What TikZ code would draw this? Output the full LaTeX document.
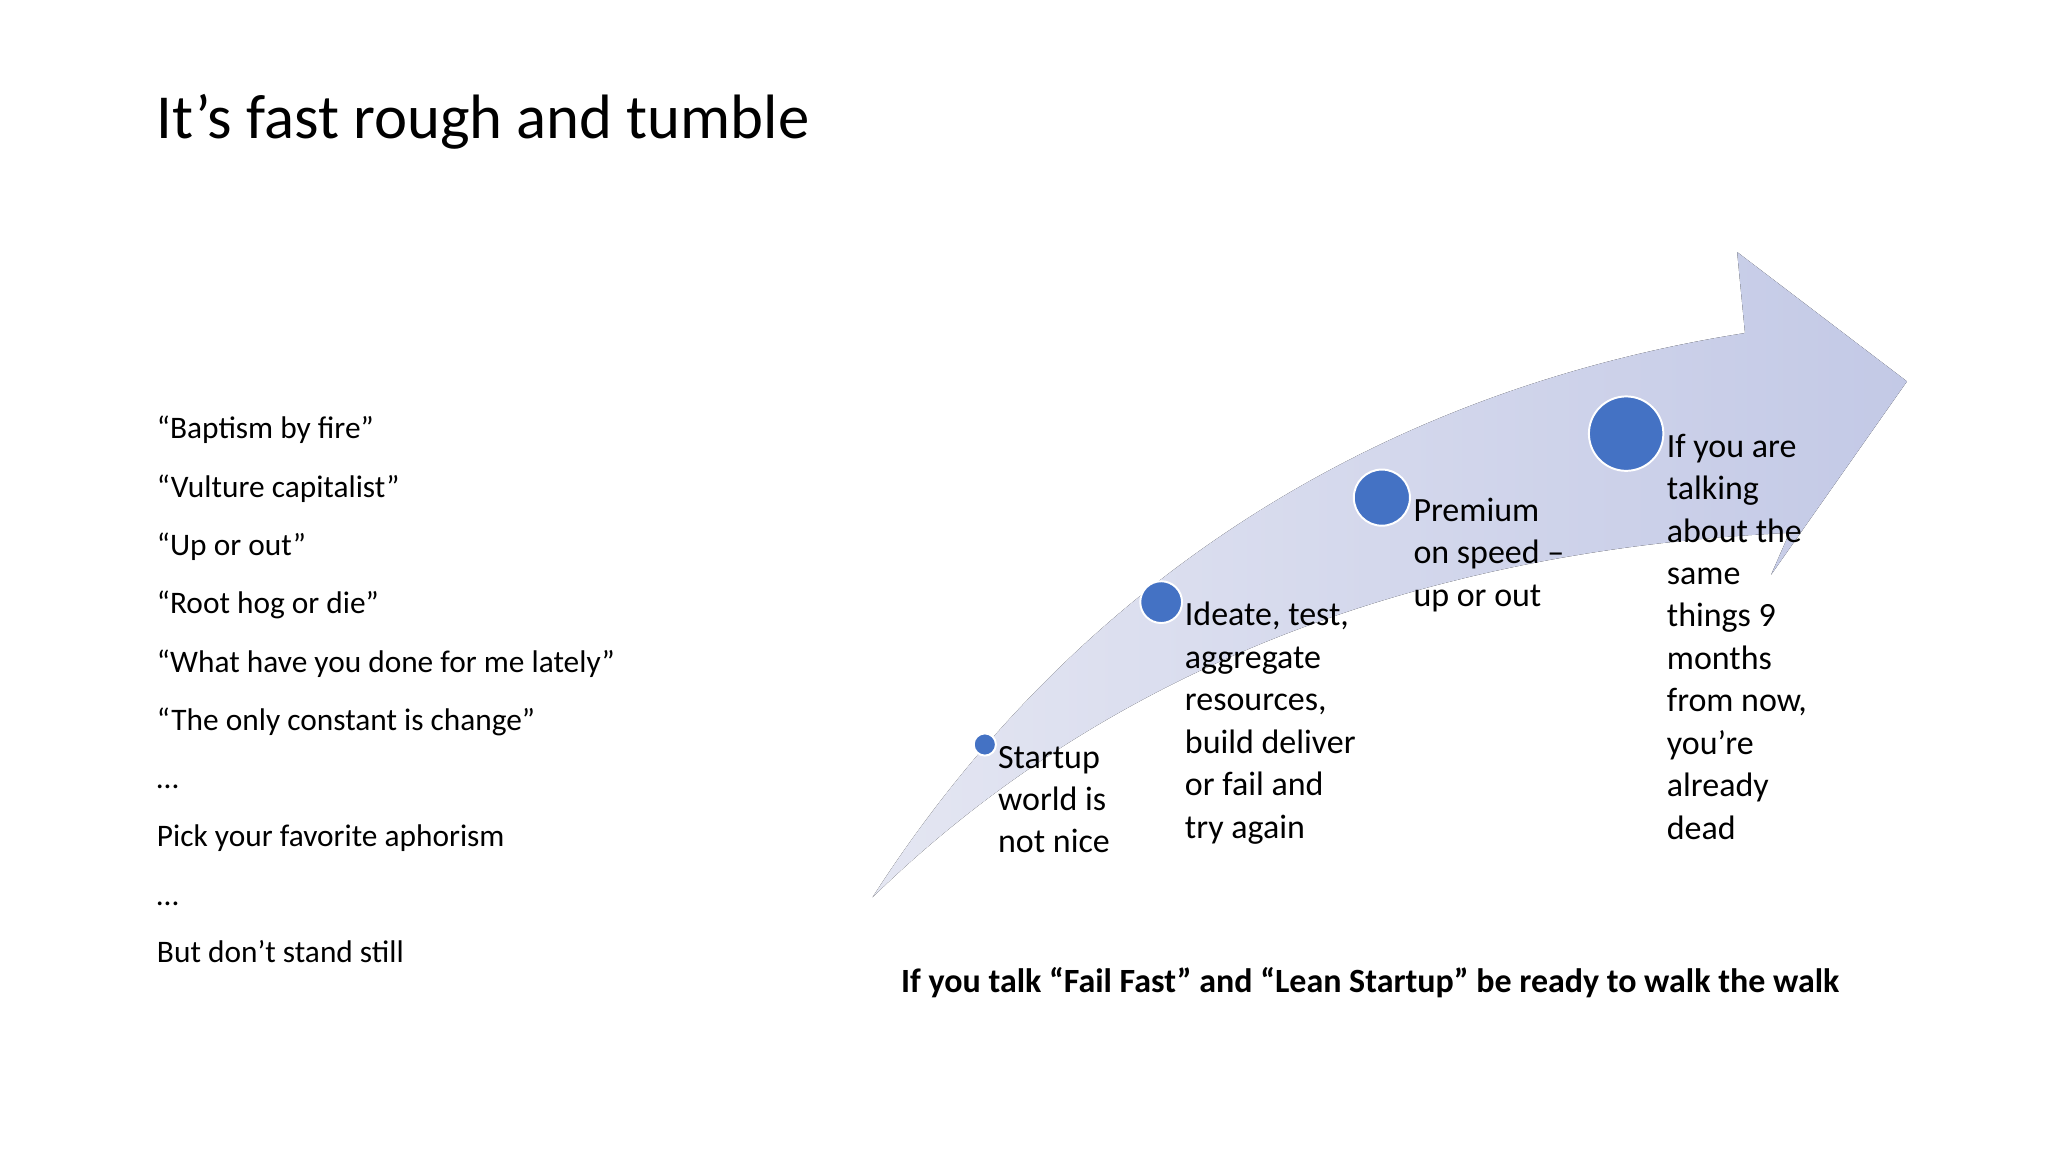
\documentclass[tikz,border=0pt]{standalone}
\usepackage{fontspec}
\setmainfont{Carlito}
\definecolor{dotblue}{HTML}{4472C4}
\definecolor{arrL}{HTML}{E4E6F2}
\definecolor{arrR}{HTML}{C3C9E6}
\begin{document}
\begin{tikzpicture}[x=1pt,y=-1pt,
  dot/.style={circle,fill=dotblue,draw=white,line width=1.5pt,inner sep=0pt},
  lbl/.style={anchor=north west,align=left,inner sep=0pt,font=\fontsize{26}{32.5}\selectfont},
  item/.style={anchor=base west,inner sep=0pt,font=\fontsize{24}{29}\selectfont}]
\useasboundingbox (0,0) rectangle (1568,882);
\fill[left color=arrL,right color=arrR] (668,687) .. controls (820,450) and (1050,300) .. (1336,255) -- (1330,193) -- (1460,292) -- (1356,440) -- (1370,408) .. controls (1110,420) and (860,500) .. cycle;
\node[anchor=base west,inner sep=0pt,font=\fontsize{48}{58}\selectfont] (title) at (120,106) {It’s fast rough and tumble};
\node[item] (l1) at (120,336) {“Baptism by fire”};
\node[item] (l2) at (120,381) {“Vulture capitalist”};
\node[item] (l3) at (120,425) {“Up or out”};
\node[item] (l4) at (120,470) {“Root hog or die”};
\node[item] (l5) at (120,515) {“What have you done for me lately”};
\node[item] (l6) at (120,559) {“The only constant is change”};
\node[item] (l7) at (120,604) {…};
\node[item] (l8) at (120,648) {Pick your favorite aphorism};
\node[item] (l9) at (120,693) {…};
\node[item] (l10) at (120,737) {But don’t stand still};
\node[dot,minimum size=17pt] (d1) at (754,570) {};
\node[dot,minimum size=32pt] (d2) at (889,461) {};
\node[dot,minimum size=43pt] (d3) at (1058,381) {};
\node[dot,minimum size=57pt] (d4) at (1245,332) {};
\node[lbl] (t1) at (764,571) {Startup\\world is\\not nice};
\node[lbl] (t2) at (907,461) {Ideate, test,\\aggregate\\resources,\\build deliver\\or fail and\\try again};
\node[lbl] (t3) at (1082,381) {Premium\\on speed –\\up or out};
\node[lbl] (t4) at (1276,332) {If you are\\talking\\about the\\same\\things 9\\months\\from now,\\you’re\\already\\dead};
\node[anchor=base,inner sep=0pt,font=\bfseries\fontsize{26}{31}\selectfont] (bot) at (1049,760) {If you talk “Fail Fast” and “Lean Startup” be ready to walk the walk};
\end{tikzpicture}
\end{document}
